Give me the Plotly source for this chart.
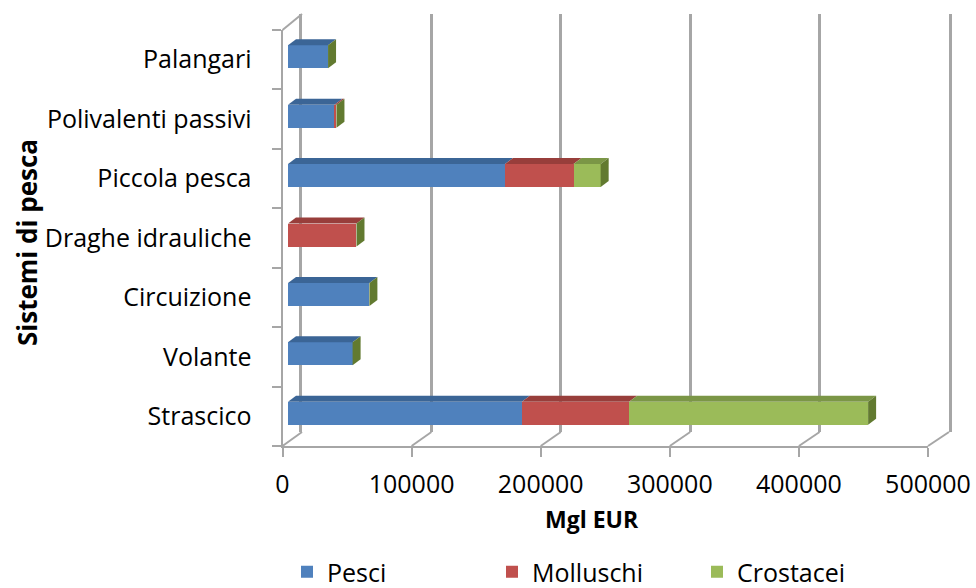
import plotly.graph_objects as go

# data (bottom to top, as in the chart)
categories = ["Strascico", "Volante", "Circuizione", "Draghe idrauliche",
              "Piccola pesca", "Polivalenti passivi", "Palangari"]
pesci = [181000, 50000, 63000, 0, 168000, 36000, 31000]
molluschi = [83000, 0, 0, 53000, 53000, 1500, 0]
crostacei = [185000, 0, 0, 0, 21000, 0, 0]
x_ticks = [0, 100000, 200000, 300000, 400000, 500000]

W, H = 976, 588
FONT = "Open Sans"
GRID = "#a6a6a6"

front_colors = {"Pesci": "#4f81bd", "Molluschi": "#c0504d", "Crostacei": "#9bbb59"}
top_colors = {"Pesci": "#3b6596", "Molluschi": "#983e3b", "Crostacei": "#7b9646"}
side_color = "#627a30"

# pixel geometry of the pseudo 3D box (front plane, back wall, bars)
FRONT_L, FRONT_R, FRONT_T, FRONT_B = 282.5, 928, 30, 446
BACK_L, BACK_R, BACK_T, BACK_B = 302, 949, 14, 432
BAR_L, BAR_R, BAR_T, BAR_B = 288, 934, 27, 443
XMAX = 500000
BAR_W = 0.387
DX = 8 * XMAX / (BAR_R - BAR_L)
DY = 6 * len(categories) / (BAR_B - BAR_T)


def px_x(p):
    return p / W


def px_y(p):
    return 1 - p / H


series = [("Pesci", pesci), ("Molluschi", molluschi), ("Crostacei", crostacei)]
ypos = list(range(len(categories)))

fig = go.Figure()
# invisible anchors so the wall and front axes get drawn
fig.add_trace(go.Scatter(x=[0], y=[0], mode="markers", marker=dict(opacity=0),
                         showlegend=False, hoverinfo="skip", xaxis="x", yaxis="y"))
fig.add_trace(go.Scatter(x=[0], y=[0], mode="markers", marker=dict(opacity=0),
                         showlegend=False, hoverinfo="skip", xaxis="x3", yaxis="y3"))
for name, vals in series:
    fig.add_trace(go.Bar(
        name=name, y=ypos, x=vals, orientation="h", width=BAR_W,
        marker=dict(color=front_colors[name], line=dict(width=0)),
        xaxis="x2", yaxis="y2",
    ))

shapes = []
# top faces of every segment and side face at the end of each stack
for i in ypos:
    left = 0
    yt = i + BAR_W / 2
    yb = i - BAR_W / 2
    for name, vals in series:
        right = left + vals[i]
        if vals[i] > 0:
            shapes.append(dict(
                type="path", xref="x2", yref="y2", layer="above", line=dict(width=0),
                fillcolor=top_colors[name],
                path=f"M{left},{yt} L{right},{yt} L{right + DX},{yt + DY} L{left + DX},{yt + DY} Z",
            ))
        left = right
    shapes.append(dict(
        type="path", xref="x2", yref="y2", layer="above", line=dict(width=0),
        fillcolor=side_color,
        path=f"M{left},{yb} L{left},{yt} L{left + DX},{yt + DY} L{left + DX},{yb + DY} Z",
    ))

# floor diagonals and top-left edge
for v in x_ticks:
    fx = FRONT_L + v * (FRONT_R - FRONT_L) / XMAX
    bx = BACK_L + v * (BACK_R - BACK_L) / XMAX
    shapes.append(dict(type="line", xref="paper", yref="paper", layer="below",
                       x0=px_x(fx), y0=px_y(FRONT_B), x1=px_x(bx), y1=px_y(BACK_B),
                       line=dict(color=GRID, width=2)))
shapes.append(dict(type="line", xref="paper", yref="paper", layer="below",
                   x0=px_x(FRONT_L), y0=px_y(FRONT_T), x1=px_x(BACK_L), y1=px_y(BACK_T),
                   line=dict(color=GRID, width=2)))

hidden = dict(showgrid=False, zeroline=False, showticklabels=False, ticks="", showline=False)

fig.update_layout(
    width=W, height=H,
    margin=dict(l=0, r=0, t=0, b=0, autoexpand=False),
    paper_bgcolor="white",
    plot_bgcolor="rgba(0,0,0,0)",
    barmode="stack",
    font=dict(family=FONT, size=24, color="#000000"),
    showlegend=True,
    legend=dict(orientation="h", x=px_x(287), y=px_y(572), xanchor="left", yanchor="middle",
                font=dict(size=25), entrywidth=160, traceorder="normal"),
    # back wall with vertical gridlines
    xaxis=dict(domain=[px_x(BACK_L), px_x(BACK_R)], range=[0, XMAX], anchor="y",
               showgrid=True, gridcolor=GRID, gridwidth=2.5, tickvals=x_ticks,
               showticklabels=False, ticks="", zeroline=False, showline=False,
               automargin=False),
    yaxis=dict(domain=[px_y(BACK_B), px_y(BACK_T)], range=[0, 1], anchor="x",
               showgrid=False, zeroline=False, showticklabels=False, ticks="",
               showline=True, mirror=True, linecolor=GRID, linewidth=2.5, automargin=False),
    # bars
    xaxis2=dict(domain=[px_x(BAR_L), px_x(BAR_R)], range=[0, XMAX], anchor="y2",
                automargin=False, **hidden),
    yaxis2=dict(domain=[px_y(BAR_B), px_y(BAR_T)], range=[-0.5, len(categories) - 0.5],
                anchor="x2", automargin=False, **hidden),
    # front axes with labels
    xaxis3=dict(domain=[px_x(FRONT_L), px_x(FRONT_R)], range=[0, XMAX], anchor="y3",
                tickvals=x_ticks, ticktext=[str(v) for v in x_ticks],
                ticks="outside", ticklen=9, tickwidth=2, tickcolor=GRID,
                showline=True, linecolor=GRID, linewidth=2, showgrid=False, zeroline=False,
                ticklabelstandoff=6, tickfont=dict(size=25), automargin=False),
    yaxis3=dict(domain=[px_y(FRONT_B), px_y(FRONT_T)], range=[-0.5, len(categories) - 0.5],
                anchor="x3", tickvals=ypos, ticktext=categories, ticks="",
                minor=dict(tick0=-0.5, dtick=1, ticks="outside", ticklen=9,
                           tickwidth=2, tickcolor=GRID),
                showline=True, linecolor=GRID, linewidth=2, showgrid=False, zeroline=False,
                ticklabelstandoff=24, tickfont=dict(size=25), automargin=False),
    shapes=shapes,
    annotations=[
        dict(text="<b>Sistemi di pesca</b>", xref="paper", yref="paper",
             x=px_x(27), y=px_y(243), textangle=-90, showarrow=False,
             font=dict(size=26), xanchor="center", yanchor="middle"),
        dict(text="<b>Mgl EUR</b>", xref="paper", yref="paper",
             x=px_x(592), y=px_y(519), showarrow=False,
             font=dict(size=23), xanchor="center", yanchor="middle"),
    ],
)

# the page body has a default 8px margin; drop it so the figure sits at 0,0
fig.write_html("out.html", config={"displayModeBar": False},
               post_script="document.body.style.margin = '0';")
